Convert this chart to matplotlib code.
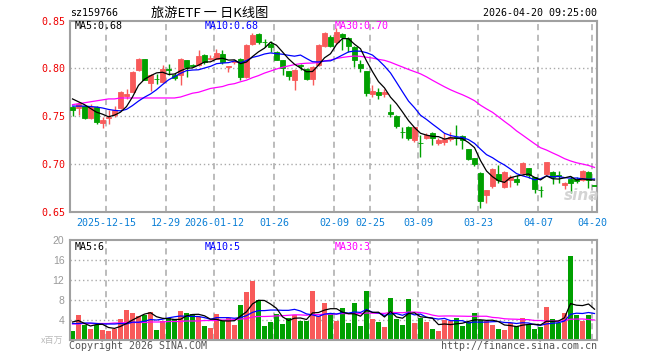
import numpy as np
import pandas as pd
import matplotlib
matplotlib.use("Agg")
import matplotlib.pyplot as plt

# ---------------- data ----------------
tick_idx = [6, 16, 24, 34, 44, 50, 58, 68, 78, 87]
tick_labels = ['2025-12-15', '12-29', '2026-01-12', '01-26', '02-09',
               '02-25', '03-09', '03-23', '04-07', '04-20']

opens = [
    0.760, 0.759, 0.7607, 0.7476, 0.7597, 0.743, 0.7476, 0.751, 0.7587, 0.7712,
    0.7753, 0.7979, 0.8097, 0.7851, 0.7892, 0.7858, 0.7990, 0.7927, 0.7927, 0.8083,
    0.8035, 0.8038, 0.8142, 0.8097, 0.8101, 0.8146, 0.8014, 0.8066, 0.8101, 0.7910,
    0.8257, 0.8361, 0.8277, 0.8257, 0.8177, 0.8083, 0.7969, 0.7875, 0.8031, 0.7997,
    0.7892, 0.8031, 0.8233, 0.8330, 0.8274, 0.8361, 0.8319, 0.8229, 0.8049, 0.7969,
    0.7729, 0.7753, 0.7729, 0.7545, 0.7503, 0.7333, 0.7389, 0.7250, 0.7218, 0.7274,
    0.7326, 0.7215, 0.7226, 0.7257, 0.7277, 0.7290, 0.7153, 0.7059, 0.6902, 0.6677,
    0.6764, 0.6896, 0.6757, 0.6833, 0.6840, 0.6902, 0.6955, 0.6857, 0.6724, 0.6892,
    0.6910, 0.6885, 0.6774, 0.6840, 0.6840, 0.6833, 0.6910, 0.6772]
closes = [
    0.7562, 0.7630, 0.7476, 0.7597, 0.7440, 0.7458, 0.7493, 0.7563, 0.7753, 0.7733,
    0.7962, 0.8101, 0.7882, 0.7934, 0.7885, 0.7997, 0.7986, 0.7903, 0.8101, 0.8014,
    0.8025, 0.8128, 0.8066, 0.8111, 0.8163, 0.8066, 0.8028, 0.8080, 0.7910, 0.8250,
    0.8354, 0.8274, 0.8274, 0.8222, 0.8090, 0.8003, 0.7917, 0.7986, 0.8028, 0.7892,
    0.8014, 0.8250, 0.8372, 0.8240, 0.8378, 0.8326, 0.8240, 0.8083, 0.8003, 0.7743,
    0.7760, 0.7719, 0.7753, 0.7517, 0.7399, 0.7330, 0.7267, 0.7389, 0.7215, 0.7302,
    0.7267, 0.7250, 0.7260, 0.7285, 0.7274, 0.7245, 0.7048, 0.6996, 0.6607, 0.6729,
    0.6944, 0.6833, 0.6913, 0.6857, 0.6805, 0.7007, 0.6885, 0.6736, 0.6722, 0.7014,
    0.6861, 0.6868, 0.6798, 0.6798, 0.6823, 0.6920, 0.6833, 0.6771]
highs = [
    0.7610, 0.7650, 0.7620, 0.7625, 0.7610, 0.7493, 0.7560, 0.7604, 0.7760, 0.7788,
    0.7970, 0.8110, 0.8101, 0.7940, 0.7944, 0.8031, 0.8049, 0.7951, 0.8110, 0.8090,
    0.8045, 0.8198, 0.8150, 0.8142, 0.8205, 0.8188, 0.8030, 0.8090, 0.8110, 0.8260,
    0.8370, 0.8370, 0.8309, 0.8292, 0.8180, 0.8085, 0.7970, 0.7990, 0.8049, 0.8000,
    0.8025, 0.8260, 0.8380, 0.8350, 0.8420, 0.8370, 0.8330, 0.8240, 0.8083, 0.7970,
    0.7823, 0.7795, 0.7788, 0.7632, 0.7510, 0.7389, 0.7395, 0.7390, 0.7302, 0.7319,
    0.7330, 0.7267, 0.7319, 0.7337, 0.7406, 0.7300, 0.7160, 0.7060, 0.6910, 0.6730,
    0.6955, 0.6989, 0.6920, 0.6885, 0.6885, 0.7014, 0.6960, 0.6860, 0.6764, 0.7024,
    0.6920, 0.6920, 0.6805, 0.6868, 0.6861, 0.6937, 0.6920, 0.6772]
lows = [
    0.7500, 0.7510, 0.7470, 0.7470, 0.7420, 0.7372, 0.7417, 0.7493, 0.7570, 0.7677,
    0.7750, 0.7970, 0.7875, 0.7764, 0.7840, 0.7850, 0.7927, 0.7875, 0.7823, 0.7910,
    0.8010, 0.8030, 0.8050, 0.8090, 0.8100, 0.8049, 0.7962, 0.8045, 0.7875, 0.7900,
    0.8250, 0.8260, 0.8222, 0.8170, 0.8083, 0.7930, 0.7875, 0.7778, 0.7979, 0.7875,
    0.7823, 0.8020, 0.8220, 0.8220, 0.8260, 0.8188, 0.8170, 0.8014, 0.7962, 0.7708,
    0.7701, 0.7677, 0.7701, 0.7493, 0.7372, 0.7267, 0.7250, 0.7226, 0.7076, 0.7260,
    0.7198, 0.7198, 0.7198, 0.7240, 0.7198, 0.7160, 0.7040, 0.6972, 0.6538, 0.6590,
    0.6746, 0.6798, 0.6746, 0.6753, 0.6781, 0.6885, 0.6851, 0.6694, 0.6652, 0.6885,
    0.6791, 0.6798, 0.6739, 0.6694, 0.6798, 0.6816, 0.6746, 0.6771]
volumes = [
    1.9, 5.1, 3.1, 2.3, 3.1, 2.1, 1.9, 2.2, 4.3, 6.1,
    5.5, 4.9, 5.1, 5.7, 2.1, 3.9, 4.5, 4.3, 5.9, 5.5,
    5.3, 4.7, 2.8, 2.5, 5.3, 3.9, 4.5, 3.1, 7.1, 9.6,
    11.8, 8.1, 2.9, 3.6, 5.3, 3.3, 4.5, 5.1, 3.8, 3.8,
    9.9, 4.9, 7.5, 5.2, 3.8, 6.4, 3.4, 7.4, 2.8, 9.8,
    4.2, 3.6, 2.6, 8.4, 4.2, 3.0, 8.2, 3.4, 4.4, 3.6,
    2.2, 1.8, 4.0, 3.8, 4.4, 2.8, 3.6, 5.4, 4.0, 3.8,
    3.0, 2.2, 2.0, 3.4, 2.8, 4.4, 3.0, 2.2, 2.6, 6.6,
    4.2, 3.4, 5.4, 16.8, 5.0, 3.8, 5.0, 0.2]

ma5_head = [0.768, 0.765, 0.762, 0.758]
ma10_head = [0.7605, 0.7605, 0.7605, 0.7600, 0.7595, 0.7585, 0.7570, 0.7560, 0.7555]
ma30_head = [0.762, 0.763, 0.764, 0.765, 0.766, 0.767, 0.768, 0.768, 0.769, 0.769,
             0.769, 0.769, 0.769, 0.769, 0.769, 0.769, 0.769, 0.769, 0.770, 0.772,
             0.774, 0.775, 0.777, 0.779, 0.780, 0.781, 0.783, 0.784, 0.786]
vma5_head = [3.6, 3.9, 3.3, 2.8]
vma10_head = [3.3, 3.3, 3.4, 3.4, 3.3, 3.2, 3.2, 3.2, 3.3]
vma30_head = [3.2, 3.2, 3.3, 3.3, 3.3, 3.3, 3.3, 3.4, 3.4, 3.5,
              3.5, 3.5, 3.5, 3.6, 3.6, 3.6, 3.7, 3.7, 3.7, 3.8,
              3.8, 3.8, 3.9, 3.9, 3.9, 4.0, 4.0, 4.1, 4.2]

price_ma_text = ['MA5:0.68', 'MA10:0.68', 'MA30:0.70']
vol_ma_text = ['MA5:6', 'MA10:5', 'MA30:3']

# ---------------- helpers ----------------
def moving(values, n, head):
    s = pd.Series(values, dtype=float).rolling(n).mean().to_numpy()
    s[:len(head)] = head
    return s

n = len(closes)
x = np.arange(n)
o = np.array(opens); c = np.array(closes); h = np.array(highs); l = np.array(lows)
RED = '#f85a5a'
GREEN = '#00a000'
cols = []
for i in range(n):
    if c[i] > o[i]:
        cols.append(RED)
    elif c[i] < o[i]:
        cols.append(GREEN)
    else:
        cols.append(RED if i > 0 and c[i] >= c[i - 1] else GREEN)

W, H = 660, 360
fig = plt.figure(figsize=(6.6, 3.6), dpi=100)
def fx(px):
    return px / W
def fy(py):
    return 1 - py / H

L, R = 70, 597
ax = fig.add_axes([fx(L), fy(211.5), fx(R - L), (211.5 - 20.7) / H])
axv = fig.add_axes([fx(L), fy(340), fx(R - L), (340 - 240) / H])

half = 2.5 / 6.0
xmin, xmax = -half, (R - 72.5) / 6.0
MONO = 'DejaVu Sans Mono'
GRID = '#aaaaaa'

for a in (ax, axv):
    a.set_xlim(xmin, xmax)
    for sp in a.spines.values():
        sp.set_color('#a0a0a0')
        sp.set_linewidth(1.5)
    a.tick_params(length=0)
    for t in tick_idx:
        a.axvline(t - half, color=GRID, lw=1.1, ls=(0, (4, 3)), zorder=0)

# candles
ax.vlines(x, l, h, colors=cols, lw=1.0, zorder=2)
body_b = np.minimum(o, c)
body_h = np.maximum(np.abs(c - o), 0.0003)
ax.bar(x, body_h, bottom=body_b, width=5 / 6.0, color=cols, edgecolor=cols,
       linewidth=0.6, zorder=3)

ma5 = moving(closes, 5, ma5_head)
ma10 = moving(closes, 10, ma10_head)
ma30 = moving(closes, 30, ma30_head)
ax.plot(x, ma30, color='#ff00ff', lw=0.9, zorder=4)
ax.plot(x, ma10, color='#0000ff', lw=0.9, zorder=4)
ax.plot(x, ma5, color='black', lw=0.9, zorder=4)

ax.set_ylim(0.65, 0.85)
ax.set_yticks([0.65, 0.70, 0.75, 0.80, 0.85])
ax.set_yticklabels(['0.65', '0.70', '0.75', '0.80', '0.85'], color='#ee0000',
                   fontfamily=MONO, fontsize=7.2)
ax.tick_params(axis='y', pad=3)
for yv in (0.70, 0.75, 0.80):
    ax.axhline(yv, color=GRID, lw=1.0, ls=(0, (1, 2)), zorder=0)
ax.set_xticks([t - half for t in tick_idx])
ax.set_xticklabels(tick_labels, color='#0a7fd6', fontfamily=MONO, fontsize=7.2)
ax.tick_params(axis='x', pad=5)

# volume
axv.bar(x, volumes, width=5 / 6.0, color=cols, linewidth=0, zorder=2)
vma5 = moving(volumes, 5, vma5_head)
vma10 = moving(volumes, 10, vma10_head)
vma30 = moving(volumes, 30, vma30_head)
axv.plot(x, vma30, color='#ff00ff', lw=0.9, zorder=4)
axv.plot(x, vma10, color='#0000ff', lw=0.9, zorder=4)
axv.plot(x, vma5, color='black', lw=0.9, zorder=4)
axv.set_ylim(0, 20)
axv.set_yticks([4, 8, 12, 16, 20])
axv.set_yticklabels(['4', '8', '12', '16', '20'], color='#999999',
                    fontfamily='Liberation Sans', fontsize=7.5)
axv.tick_params(axis='y', pad=4)
axv.set_xticks([])
for yv in (4, 8, 12, 16):
    axv.axhline(yv, color=GRID, lw=1.0, ls=(0, (1, 2)), zorder=0)

# texts
fig.text(fx(70), fy(13), 'sz159766', fontfamily=MONO, fontsize=7.2, va='center', ha='left')
fig.text(fx(210), fy(13), '旅游ETF 一 日K线图', fontfamily=['Noto Sans CJK SC', 'DejaVu Sans'],
         fontsize=9.5, va='center', ha='center')
fig.text(fx(597), fy(13), '2026-04-20 09:25:00', fontfamily=MONO, fontsize=7.2,
         va='center', ha='right')

ma_cols = ['black', '#0000ff', '#ff00ff']
ma_x = [75, 205, 334.5]
for t, cc, px in zip(price_ma_text, ma_cols, ma_x):
    fig.text(fx(px), fy(26), t, color=cc, fontfamily=MONO, fontsize=7.2, va='center', ha='left')
for t, cc, px in zip(vol_ma_text, ma_cols, ma_x):
    fig.text(fx(px), fy(246.5), t, color=cc, fontfamily=MONO, fontsize=7.2, va='center', ha='left')

fig.text(fx(63), fy(340), 'x百万', fontfamily=['Noto Sans CJK SC', 'DejaVu Sans'],
         fontsize=6.5, color='#bbbbbb', va='center', ha='right')
fig.text(fx(69), fy(346), 'Copyright 2026 SINA.COM', fontfamily=MONO, fontsize=7.2,
         color='#555555', va='center', ha='left')
fig.text(fx(597), fy(346), 'http://finance.sina.com.cn', fontfamily=MONO, fontsize=7.2,
         color='#555555', va='center', ha='right')
fig.text(fx(582), fy(196), 'sina', fontfamily='DejaVu Sans', fontsize=11, fontweight='bold',
         fontstyle='italic', color='#d0d0d0', va='center', ha='center', alpha=0.9, zorder=1)

fig.savefig('out.png', dpi=100)
